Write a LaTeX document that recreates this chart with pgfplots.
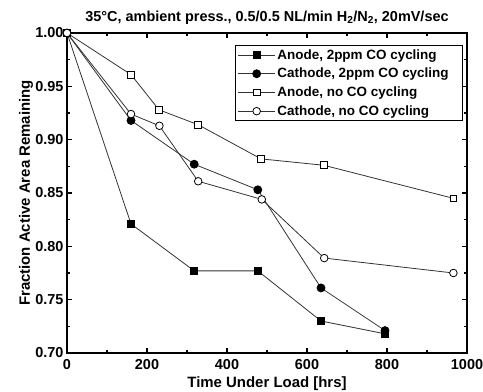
\documentclass[border=0pt]{standalone}
\usepackage{fontspec}
\setmainfont{Liberation Sans}
\usepackage{pgfplots}
\pgfplotsset{compat=1.18}

\begin{document}
\begin{tikzpicture}
\path[use as bounding box] (-67bp,-39bp) rectangle (416bp,353bp);
\begin{axis}[
  scale only axis,
  width=400bp, height=320bp,
  xmin=0, xmax=1000, ymin=0.70, ymax=1.00,
  xtick={0,200,...,1000},
  minor xtick={100,300,...,900},
  ytick={0.70,0.75,...,1.00},
  minor ytick={0.725,0.775,...,0.975},
  xticklabel style={/pgf/number format/1000 sep={}},
  yticklabel style={/pgf/number format/.cd,fixed,fixed zerofill,precision=2},
  /pgf/number format/assume math mode=true,
  ticklabel style={font=\fontsize{14.5}{16}\selectfont\bfseries},
  xticklabel style={anchor=base, yshift=-16bp},
  tick align=inside,
  major tick length=5bp, minor tick length=3bp,
  every tick/.style={black, line width=1.6bp},
  axis line style={line width=2.4bp},
  xlabel={\bfseries Time Under Load [hrs]},
  ylabel={\bfseries Fraction Active Area Remaining},
  label style={font=\fontsize{15}{16}\selectfont},
  xlabel style={at={(axis description cs:0.5,-0.109)}, anchor=base},
  ylabel style={at={(axis description cs:-0.0925,0.5)}, anchor=base},
  title={\bfseries 35°C, ambient press., 0.5/0.5 NL/min H\textsubscript{2}/N\textsubscript{2}, 20mV/sec},
  title style={font=\fontsize{14.5}{16}\selectfont, at={(axis description cs:0.5,1)}, anchor=base, yshift=6bp},
  legend style={at={(0.99,0.9625)}, anchor=north east, draw=black, line width=0.8bp,
    font=\fontsize{13.5}{15}\selectfont\bfseries, row sep=3.5bp,
    inner sep=2bp},
  legend cell align=left,
  legend image code/.code={
    \draw[mark repeat=2,mark phase=2] plot coordinates {(0cm,0cm) (0.65cm,0cm) (1.3cm,0cm)};
  },
  every axis plot/.append style={line width=0.8bp, draw=black!80},
]
\addplot[mark=square*, mark size=3.6bp, mark options={fill=black, draw=black}] coordinates {
  (0,1.000) (160,0.821) (318,0.777) (477,0.777) (635,0.730) (795,0.718)};
\addlegendentry{Anode, 2ppm CO cycling\hspace*{10bp}}
\addplot[mark=*, mark size=4bp, mark options={fill=black, draw=black}] coordinates {
  (0,1.000) (160,0.918) (318,0.877) (477,0.853) (635,0.761) (795,0.721)};
\addlegendentry{Cathode, 2ppm CO cycling\hspace*{10bp}}
\addplot[mark=square*, mark size=3.4bp, mark options={fill=white, draw=black, line width=0.8bp}] coordinates {
  (0,1.000) (160,0.961) (230,0.928) (328,0.914) (485,0.882) (642,0.876) (966,0.845)};
\addlegendentry{Anode, no CO cycling}
\addplot[mark=*, mark size=3.8bp, mark options={fill=white, draw=black, line width=0.8bp}] coordinates {
  (0,1.000) (160,0.924) (231,0.913) (328,0.861) (487,0.844) (643,0.789) (966,0.775)};
\addlegendentry{Cathode, no CO cycling}
\end{axis}
\end{tikzpicture}
\end{document}
